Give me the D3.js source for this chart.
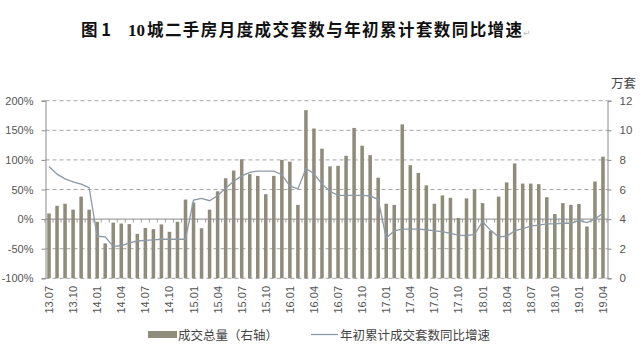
<!DOCTYPE html>
<html><head><meta charset="utf-8">
<script src="https://cdn.jsdelivr.net/npm/d3@7"></script>
<style>
html,body{margin:0;padding:0;background:#fff;}
svg{display:block;}
</style></head>
<body>
<svg id="chart" width="641" height="351"></svg>
<script>
const months = ["13.07","13.08","13.09","13.10","13.11","13.12",
"14.01","14.02","14.03","14.04","14.05","14.06","14.07","14.08","14.09","14.10","14.11","14.12",
"15.01","15.02","15.03","15.04","15.05","15.06","15.07","15.08","15.09","15.10","15.11","15.12",
"16.01","16.02","16.03","16.04","16.05","16.06","16.07","16.08","16.09","16.10","16.11","16.12",
"17.01","17.02","17.03","17.04","17.05","17.06","17.07","17.08","17.09","17.10","17.11","17.12",
"18.01","18.02","18.03","18.04","18.05","18.06","18.07","18.08","18.09","18.10","18.11","18.12",
"19.01","19.02","19.03","19.04"];
// 成交总量 (万套, right axis)
const volume = [4.38,4.90,5.04,4.64,5.52,4.64,
3.82,2.36,3.76,3.70,3.66,3.00,3.40,3.32,3.64,3.14,3.82,5.32,
5.12,3.38,4.64,5.88,6.76,7.28,8.04,7.04,6.92,5.68,6.92,8.00,
7.88,4.96,11.36,10.12,8.76,7.56,7.60,8.28,10.16,8.96,8.32,6.80,
5.04,4.96,10.40,7.64,7.12,6.28,5.04,5.60,5.44,4.08,5.40,6.00,
5.08,3.20,5.52,6.48,7.76,6.40,6.40,6.36,5.48,4.34,5.08,4.96,
5.02,3.50,6.54,8.22];
// 年初累计成交套数同比增速 (%, left axis)
const growth = [89,76,68,63,59,53,
-29,-30,-46,-45,-40,-37,-36,-35,-34,-34,-34,-34,
32,35,31,40,52,64,73,79,81,81,81,75,
56,51,85,77,59,47,40,40,40,40,39,33,
-32,-20,-17,-17,-17,-18,-20,-21,-24,-27,-28,-26,
-4,-19,-30,-29,-20,-16,-12,-10,-8,-8,-7,-7,
-2,-6,0,10];
const leftTicks = [-100,-50,0,50,100,150,200];
const rightTicks = [0,2,4,6,8,10,12];
const labelMonths = months.filter((m,i)=>i%3===0);
const titleText = ["图 1","10","城二手房月度成交套数与年初累计套数同比增速"];
const legendNames = ["成交总量（右轴）","年初累计成交套数同比增速"];

const barColor = "#8f8c7b", lineColor = "#8d99a5", axisColor = "#8a8a8a", textColor = "#555";
const svg = d3.select("#chart");
const L = 45.5, R = 607.5, T = 100.7, B = 278.3;

const x = d3.scaleBand().domain(months).range([45, 607]).paddingInner(0.56).paddingOuter(0.28);
const xc = d => x(d) + x.bandwidth()/2;
const yL = d3.scaleLinear().domain([-100,200]).range([B,T]);
const yR = d3.scaleLinear().domain([0,12]).range([B,T]);

// title
const tf = "'Liberation Serif','Noto Sans CJK SC',serif";
svg.append("text").attr("x",81).attr("y",36).attr("font-family","'Noto Sans CJK SC',serif").attr("font-weight","bold").attr("font-size",16.5).attr("fill","#111").attr("xml:space","preserve").text(titleText[0]);
svg.append("text").attr("x",128).attr("y",36).attr("font-family",tf).attr("font-weight","bold").attr("font-size",17).attr("fill","#111").text(titleText[1]);
svg.append("text").attr("x",147).attr("y",36).attr("font-family","'Noto Sans CJK SC',sans-serif").attr("font-weight","bold").attr("font-size",16.5)
  .attr("textLength",375).attr("lengthAdjust","spacing").attr("fill","#111").text(titleText[2]);
svg.append("text").attr("x",523).attr("y",36).attr("font-family","'DejaVu Sans'").attr("font-size",9).attr("fill","#bbb").text("↵");

// gridlines
svg.append("g").selectAll("line").data(leftTicks.filter(d=>d!==0)).join("line")
  .attr("x1",L).attr("x2",R).attr("y1",d=>yL(d)).attr("y2",d=>yL(d))
  .attr("stroke","#9a9a9a").attr("stroke-width",0.9).attr("stroke-dasharray","4,3");

// bars
svg.append("g").selectAll("rect").data(months).join("rect")
  .attr("x",d=>x(d)).attr("width",x.bandwidth())
  .attr("y",(d,i)=>yR(volume[i])).attr("height",(d,i)=>yR(0)-yR(volume[i]))
  .attr("fill",barColor);

// zero line with category ticks
svg.append("line").attr("x1",L).attr("x2",R).attr("y1",yL(0)).attr("y2",yL(0)).attr("stroke",axisColor).attr("stroke-width",1);
const step = x.step();
svg.append("g").selectAll("line").data(d3.range(months.length+1)).join("line")
  .attr("x1",i=>x(months[0]) - x.paddingOuter()*step + i*step - (0)).attr("x2",i=>x(months[0]) - x.paddingOuter()*step + i*step)
  .attr("y1",yL(0)).attr("y2",yL(0)+3.5).attr("stroke",axisColor).attr("stroke-width",0.8);

// axes lines
const leftAxis = d3.axisLeft(yL).tickValues(leftTicks).tickSize(4).tickPadding(8).tickFormat(d=>d+"%");
const gL = svg.append("g").attr("transform",`translate(${L},0)`).call(leftAxis);
gL.select(".domain").attr("stroke",axisColor);
gL.selectAll(".tick line").attr("stroke",axisColor);
gL.selectAll("text").attr("font-family","'Liberation Sans',Arial,sans-serif").attr("font-size",11).attr("fill",textColor);

const rightAxis = d3.axisRight(yR).tickValues(rightTicks).tickSize(4).tickPadding(8);
const gR = svg.append("g").attr("transform",`translate(${R},0)`).call(rightAxis);
gR.select(".domain").attr("stroke",axisColor);
gR.selectAll(".tick line").attr("stroke",axisColor);
gR.selectAll("text").attr("font-family","'Liberation Sans',Arial,sans-serif").attr("font-size",11.5).attr("fill",textColor);
svg.append("text").attr("x",611).attr("y",88).attr("font-family","'Noto Sans CJK SC',sans-serif").attr("font-size",12.5).attr("fill","#444").text("万套");

// line
const line = d3.line().x((d,i)=>xc(months[i])).y(d=>yL(d));
svg.append("path").datum(growth).attr("d",line).attr("fill","none").attr("stroke",lineColor).attr("stroke-width",1.3);

// x labels
svg.append("g").selectAll("text").data(labelMonths).join("text")
  .attr("transform",d=>`translate(${xc(d)+4},286) rotate(-90)`)
  .attr("text-anchor","end").attr("font-family","'Liberation Sans',Arial,sans-serif").attr("font-size",11).attr("fill",textColor)
  .text(d=>d);

// legend
svg.append("rect").attr("x",148).attr("y",331).attr("width",29).attr("height",7).attr("fill",barColor);
svg.append("text").attr("x",178).attr("y",339.5).attr("font-family","'Noto Sans CJK SC',sans-serif").attr("font-size",12.5).attr("fill","#444").text(legendNames[0]);
svg.append("line").attr("x1",311).attr("x2",338).attr("y1",334.5).attr("y2",334.5).attr("stroke",lineColor).attr("stroke-width",1.3);
svg.append("text").attr("x",340).attr("y",339.5).attr("font-family","'Noto Sans CJK SC',sans-serif").attr("font-size",12.5).attr("fill","#444").text(legendNames[1]);
</script>
</body></html>
